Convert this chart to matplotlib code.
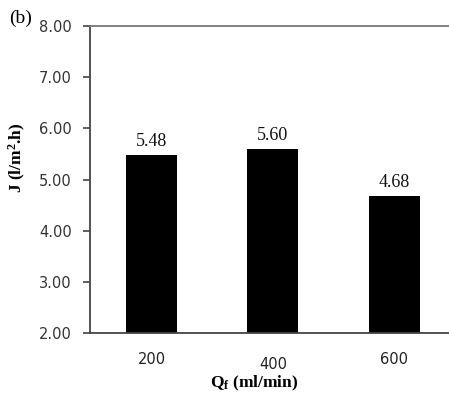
import matplotlib.pyplot as plt

plt.rcParams['mathtext.fontset'] = 'custom'
plt.rcParams['mathtext.rm'] = 'Liberation Serif'
plt.rcParams['mathtext.bf'] = 'Liberation Serif:bold'
plt.rcParams['mathtext.it'] = 'Liberation Serif:italic'

# data
flow_rates = ['200', '400', '600']
flux = [5.48, 5.60, 4.68]
flux_labels = ['5.48', '5.60', '4.68']
y_ticks = [2, 3, 4, 5, 6, 7, 8]

W, H = 449, 403
fig = plt.figure(figsize=(W / 100, H / 100), dpi=100)
ax = fig.add_axes([90 / W, 1 - 333 / H, 359 / W, 307 / H])

xs = list(range(len(flow_rates)))
ax.bar(xs, flux, width=0.42, color='black', bottom=0)
for x, v, lab in zip(xs, flux, flux_labels):
    ax.text(x, v + 0.1, lab, ha='center', va='bottom',
            fontsize=13, family='Liberation Serif', color='#111111')

ax.set_ylim(2, 8)
ax.set_xlim(-0.506, 2.449)
ax.set_yticks(y_ticks)
ax.set_yticklabels(['%.2f' % t for t in y_ticks], family='DejaVu Sans',
                   fontsize=10.5, color='#333333')
ax.set_xticks(xs)
ax.set_xticklabels(flow_rates, family='DejaVu Sans', fontsize=10.5, color='#222222')
ax.tick_params(axis='y', direction='out', length=5, width=1.2, color='#444444', pad=8)
ax.tick_params(axis='x', length=0, pad=14)
# the middle label sits a bit lower in the original
ax.get_xticklabels()[1].set_y(-0.014)

for side in ['left', 'bottom', 'top']:
    ax.spines[side].set_color('#444444')
    ax.spines[side].set_linewidth(1.3)
ax.spines['top'].set_color('#777777')
ax.spines['right'].set_visible(False)

fig.text(254 / W, 1 - 383 / H, r'$\mathbf{Q_f}$ (ml/min)', ha='center', va='center',
         fontsize=12.5, family='Liberation Serif', fontweight='bold')
fig.text(17 / W, 1 - 158 / H, r'J (l/m$^{\mathbf{2}}$.h)', ha='center', va='center',
         rotation=90, fontsize=12.5, family='Liberation Serif', fontweight='bold')
fig.text(9 / W, 1 - 18 / H, '(b)', ha='left', va='center',
         fontsize=14, family='Liberation Serif')

fig.savefig('out.png', dpi=100)
